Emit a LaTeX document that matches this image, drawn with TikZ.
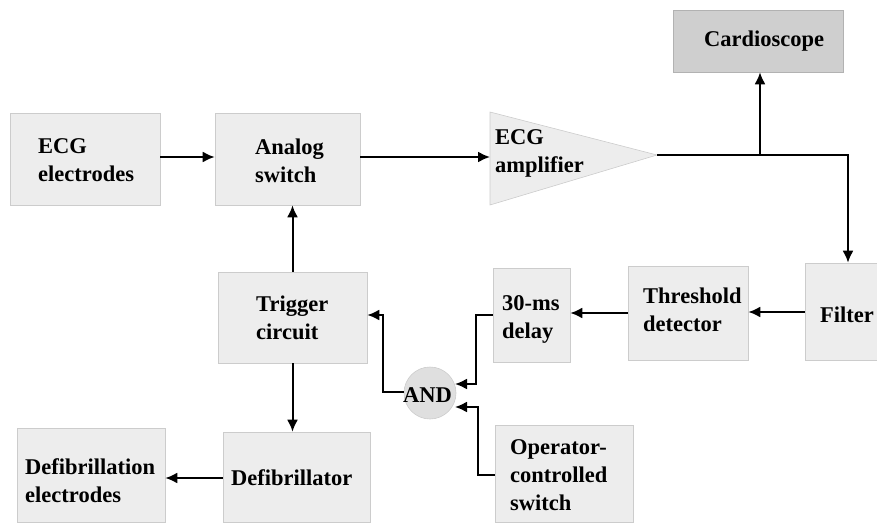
\documentclass[tikz,border=0pt]{standalone}
\usepackage{fontspec}
\setmainfont{Liberation Serif}
\usetikzlibrary{arrows.meta}
\begin{document}
\begin{tikzpicture}[x=1pt,y=-1pt,
  box/.style={draw=gray!40,line width=0.6pt,fill=gray!14,inner sep=0pt},
  darkbox/.style={box,fill=gray!38,draw=gray!60},
  lbl/.style={font=\fontsize{22.5}{28}\selectfont\bfseries,align=left,inner sep=0pt,anchor=west},
  conn/.style={line width=2pt,-{Latex[length=12pt,width=11pt]}},
  plain/.style={line width=2pt}]
\useasboundingbox (0,0) rectangle (877,522);
% boxes
\node[box,minimum width=150pt,minimum height=92pt] (ecg) at (85,159) {};
\node[box,minimum width=145pt,minimum height=92pt] (sw) at (287.5,159) {};
\node[darkbox,minimum width=170pt,minimum height=62pt] (card) at (758,41) {};
\node[box,minimum width=72pt,minimum height=97pt] (filt) at (841,311.5) {};
\node[box,minimum width=120pt,minimum height=94pt] (thr) at (688,313) {};
\node[box,minimum width=77pt,minimum height=94pt] (dly) at (531.5,315) {};
\node[box,minimum width=149pt,minimum height=91pt] (trig) at (292.5,317.5) {};
\node[box,circle,fill=gray!25,minimum size=52pt] (and) at (430,393) {};
\node[box,minimum width=138pt,minimum height=97pt] (op) at (564,473.5) {};
\node[box,minimum width=147pt,minimum height=90pt] (defib) at (296.5,477) {};
\node[box,minimum width=148pt,minimum height=94pt] (defel) at (91,475) {};
% amplifier triangle
\draw[box] (490,112) -- (657,155) -- (490,205) -- cycle;
\coordinate (ampin) at (490,157);
\coordinate (ampout) at (657,155);
\coordinate (branch) at (760,155);
\coordinate (corner) at (848,155);
% labels
\node[lbl] (ecgT) at (38,160) {ECG\\electrodes};
\node[lbl] (swT) at (255,161) {Analog\\switch};
\node[lbl] (ampT) at (495,153) {ECG\\amplifier};
\node[lbl] (cardT) at (704,41) {Cardioscope};
\node[lbl] (trigT) at (256,318) {Trigger\\circuit};
\node[lbl] (dlyT) at (502,319) {30-ms\\delay};
\node[lbl] (thrT) at (643,310) {Threshold\\detector};
\node[lbl] (filtT) at (820,315) {Filter};
\node[lbl] (andT) at (403,395) {AND};
\node[lbl] (opT) at (510,475) {Operator-\\controlled\\switch};
\node[lbl] (defibT) at (231,478) {Defibrillator};
\node[lbl] (defelT) at (25,481) {Defibrillation\\electrodes};
% connectors
\draw[conn] (ecg.east|-0,157) -- (sw.west|-0,157);
\draw[conn] (sw.east|-0,157) -- (ampin);
\draw[conn] (ampout) -- (corner) -- (filt.north-|corner);
\draw[conn] (branch) -- (card.south-|branch);
\draw[conn] (filt.west|-0,312) -- (thr.east|-0,312);
\draw[conn] (thr.west|-0,313) -- (dly.east|-0,313);
\draw[conn] (dly.west|-0,315) -- (476,315) -- (476,384) -- (455,384);
\draw[conn] (op.west|-0,475) -- (478,475) -- (478,407) -- (455,407);
\draw[conn] (and.west|-0,392) -- (383,392) -- (383,315) -- (trig.east|-0,315);
\draw[conn] (trig.north) -- (sw.south-|trig.north);
\draw[conn] (trig.south) -- (defib.north-|trig.south);
\draw[conn] (defib.west|-0,478) -- (defel.east|-0,478);
\end{tikzpicture}
\end{document}
